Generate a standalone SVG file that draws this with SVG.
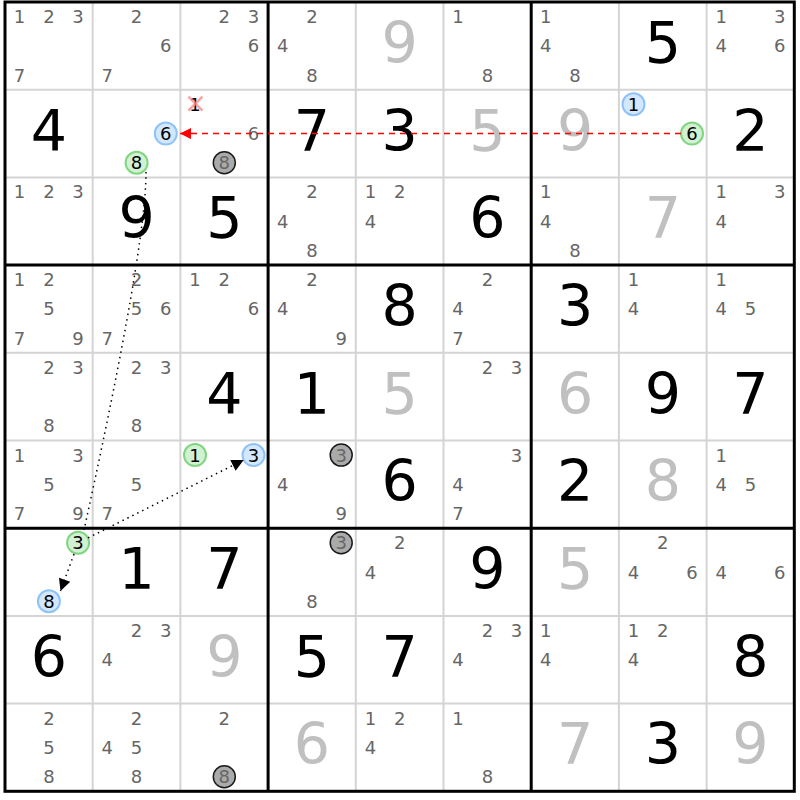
<svg xmlns="http://www.w3.org/2000/svg" width="800" height="800" viewBox="0 0 800 800">
<style>
text{font-family:"DejaVu Sans","Liberation Sans",sans-serif;text-anchor:middle}
.c{font-size:18px;fill:#666}
.b{font-size:57px;fill:#000}
.l{font-size:57px;fill:#c0c0c0}
.k{font-size:18px;fill:#000}
.thin{stroke:#d4d4d4;stroke-width:2}
.thick{stroke:#000;stroke-width:3}
.cb{fill:#d3e8ff;stroke:#8fc3f7;stroke-width:2}
.cg{fill:#d2f1d2;stroke:#80d580;stroke-width:2}
.cx{fill:#aaa;stroke:#1a1a1a;stroke-width:1.5}
.dot{stroke:#000;stroke-width:1.5;stroke-dasharray:1.5 4;fill:none}
</style>
<defs>
<marker id="ar" viewBox="0 0 10 10" refX="10" refY="5" markerWidth="16" markerHeight="11" markerUnits="userSpaceOnUse" orient="auto"><path d="M0,0L10,5L0,10z" fill="#f00"/></marker>
<marker id="ab" viewBox="0 0 10 10" refX="10" refY="5" markerWidth="16" markerHeight="12" markerUnits="userSpaceOnUse" orient="auto"><path d="M0,0L10,5L0,10z" fill="#000"/></marker>
</defs>
<rect x="0" y="0" width="800" height="800" fill="#fff"/>
<g id="grid">
<path class="thin" d="M92.7,2V791.3M180.4,2V791.3M355.8,2V791.3M443.5,2V791.3M618.9,2V791.3M706.6,2V791.3M5,89.7H794.3M5,177.4H794.3M5,352.8H794.3M5,440.5H794.3M5,615.9H794.3M5,703.6H794.3"/>
<path class="thick" d="M268.1,2V791.3M531.2,2V791.3M5,265.1H794.3M5,528.2H794.3"/>
<rect class="thick" x="5" y="2" width="789.3" height="789.3" fill="none"/>
</g>
<!-- row 0 -->
<g id="r0c0" transform="translate(5,2)"><text class="c" x="14.6" y="21.1">1</text><text class="c" x="43.9" y="21.1">2</text><text class="c" x="73.1" y="21.1">3</text><text class="c" x="14.6" y="79.6">7</text></g>
<g id="r0c1" transform="translate(92.7,2)"><text class="c" x="43.9" y="21.1">2</text><text class="c" x="73.1" y="50.4">6</text><text class="c" x="14.6" y="79.6">7</text></g>
<g id="r0c2" transform="translate(180.4,2)"><text class="c" x="43.9" y="21.1">2</text><text class="c" x="73.1" y="21.1">3</text><text class="c" x="73.1" y="50.4">6</text></g>
<g id="r0c3" transform="translate(268.1,2)"><text class="c" x="43.9" y="21.1">2</text><text class="c" x="14.6" y="50.4">4</text><text class="c" x="43.9" y="79.6">8</text></g>
<g id="r0c4" transform="translate(355.8,2)"><text class="l" x="43.9" y="60.9">9</text></g>
<g id="r0c5" transform="translate(443.5,2)"><text class="c" x="14.6" y="21.1">1</text><text class="c" x="43.9" y="79.6">8</text></g>
<g id="r0c6" transform="translate(531.2,2)"><text class="c" x="14.6" y="21.1">1</text><text class="c" x="14.6" y="50.4">4</text><text class="c" x="43.9" y="79.6">8</text></g>
<g id="r0c7" transform="translate(618.9,2)"><text class="b" x="43.9" y="60.9">5</text></g>
<g id="r0c8" transform="translate(706.6,2)"><text class="c" x="14.6" y="21.1">1</text><text class="c" x="73.1" y="21.1">3</text><text class="c" x="14.6" y="50.4">4</text><text class="c" x="73.1" y="50.4">6</text></g>
<!-- row 1 -->
<g id="r1c0" transform="translate(5,89.7)"><text class="b" x="43.9" y="60.9">4</text></g>
<g id="r1c1" transform="translate(92.7,89.7)"><circle class="cb" cx="73.1" cy="43.9" r="11"/><text class="k" x="73.1" y="50.4">6</text><circle class="cg" cx="43.9" cy="73.1" r="11"/><text class="k" x="43.9" y="79.6">8</text></g>
<g id="r1c2" transform="translate(180.4,89.7)"><text class="k" x="14.6" y="21.1">1</text><path d="M8,7L22,21M22,7L8,21" stroke="#ff8a8a" stroke-width="2.5" opacity="0.8"/><text class="c" x="73.1" y="50.4">6</text><circle class="cx" cx="43.9" cy="73.1" r="11"/><text class="c" x="43.9" y="79.6">8</text></g>
<g id="r1c3" transform="translate(268.1,89.7)"><text class="b" x="43.9" y="60.9">7</text></g>
<g id="r1c4" transform="translate(355.8,89.7)"><text class="b" x="43.9" y="60.9">3</text></g>
<g id="r1c5" transform="translate(443.5,89.7)"><text class="l" x="43.9" y="60.9">5</text></g>
<g id="r1c6" transform="translate(531.2,89.7)"><text class="l" x="43.9" y="60.9">9</text></g>
<g id="r1c7" transform="translate(618.9,89.7)"><circle class="cb" cx="14.6" cy="14.6" r="11"/><text class="k" x="14.6" y="21.1">1</text><circle class="cg" cx="73.1" cy="43.9" r="11"/><text class="k" x="73.1" y="50.4">6</text></g>
<g id="r1c8" transform="translate(706.6,89.7)"><text class="b" x="43.9" y="60.9">2</text></g>
<!-- row 2 -->
<g id="r2c0" transform="translate(5,177.4)"><text class="c" x="14.6" y="21.1">1</text><text class="c" x="43.9" y="21.1">2</text><text class="c" x="73.1" y="21.1">3</text></g>
<g id="r2c1" transform="translate(92.7,177.4)"><text class="b" x="43.9" y="60.9">9</text></g>
<g id="r2c2" transform="translate(180.4,177.4)"><text class="b" x="43.9" y="60.9">5</text></g>
<g id="r2c3" transform="translate(268.1,177.4)"><text class="c" x="43.9" y="21.1">2</text><text class="c" x="14.6" y="50.4">4</text><text class="c" x="43.9" y="79.6">8</text></g>
<g id="r2c4" transform="translate(355.8,177.4)"><text class="c" x="14.6" y="21.1">1</text><text class="c" x="43.9" y="21.1">2</text><text class="c" x="14.6" y="50.4">4</text></g>
<g id="r2c5" transform="translate(443.5,177.4)"><text class="b" x="43.9" y="60.9">6</text></g>
<g id="r2c6" transform="translate(531.2,177.4)"><text class="c" x="14.6" y="21.1">1</text><text class="c" x="14.6" y="50.4">4</text><text class="c" x="43.9" y="79.6">8</text></g>
<g id="r2c7" transform="translate(618.9,177.4)"><text class="l" x="43.9" y="60.9">7</text></g>
<g id="r2c8" transform="translate(706.6,177.4)"><text class="c" x="14.6" y="21.1">1</text><text class="c" x="73.1" y="21.1">3</text><text class="c" x="14.6" y="50.4">4</text></g>
<!-- row 3 -->
<g id="r3c0" transform="translate(5,265.1)"><text class="c" x="14.6" y="21.1">1</text><text class="c" x="43.9" y="21.1">2</text><text class="c" x="43.9" y="50.4">5</text><text class="c" x="14.6" y="79.6">7</text><text class="c" x="73.1" y="79.6">9</text></g>
<g id="r3c1" transform="translate(92.7,265.1)"><text class="c" x="43.9" y="21.1">2</text><text class="c" x="43.9" y="50.4">5</text><text class="c" x="73.1" y="50.4">6</text><text class="c" x="14.6" y="79.6">7</text></g>
<g id="r3c2" transform="translate(180.4,265.1)"><text class="c" x="14.6" y="21.1">1</text><text class="c" x="43.9" y="21.1">2</text><text class="c" x="73.1" y="50.4">6</text></g>
<g id="r3c3" transform="translate(268.1,265.1)"><text class="c" x="43.9" y="21.1">2</text><text class="c" x="14.6" y="50.4">4</text><text class="c" x="73.1" y="79.6">9</text></g>
<g id="r3c4" transform="translate(355.8,265.1)"><text class="b" x="43.9" y="60.9">8</text></g>
<g id="r3c5" transform="translate(443.5,265.1)"><text class="c" x="43.9" y="21.1">2</text><text class="c" x="14.6" y="50.4">4</text><text class="c" x="14.6" y="79.6">7</text></g>
<g id="r3c6" transform="translate(531.2,265.1)"><text class="b" x="43.9" y="60.9">3</text></g>
<g id="r3c7" transform="translate(618.9,265.1)"><text class="c" x="14.6" y="21.1">1</text><text class="c" x="14.6" y="50.4">4</text></g>
<g id="r3c8" transform="translate(706.6,265.1)"><text class="c" x="14.6" y="21.1">1</text><text class="c" x="14.6" y="50.4">4</text><text class="c" x="43.9" y="50.4">5</text></g>
<!-- row 4 -->
<g id="r4c0" transform="translate(5,352.8)"><text class="c" x="43.9" y="21.1">2</text><text class="c" x="73.1" y="21.1">3</text><text class="c" x="43.9" y="79.6">8</text></g>
<g id="r4c1" transform="translate(92.7,352.8)"><text class="c" x="43.9" y="21.1">2</text><text class="c" x="73.1" y="21.1">3</text><text class="c" x="43.9" y="79.6">8</text></g>
<g id="r4c2" transform="translate(180.4,352.8)"><text class="b" x="43.9" y="60.9">4</text></g>
<g id="r4c3" transform="translate(268.1,352.8)"><text class="b" x="43.9" y="60.9">1</text></g>
<g id="r4c4" transform="translate(355.8,352.8)"><text class="l" x="43.9" y="60.9">5</text></g>
<g id="r4c5" transform="translate(443.5,352.8)"><text class="c" x="43.9" y="21.1">2</text><text class="c" x="73.1" y="21.1">3</text></g>
<g id="r4c6" transform="translate(531.2,352.8)"><text class="l" x="43.9" y="60.9">6</text></g>
<g id="r4c7" transform="translate(618.9,352.8)"><text class="b" x="43.9" y="60.9">9</text></g>
<g id="r4c8" transform="translate(706.6,352.8)"><text class="b" x="43.9" y="60.9">7</text></g>
<!-- row 5 -->
<g id="r5c0" transform="translate(5,440.5)"><text class="c" x="14.6" y="21.1">1</text><text class="c" x="73.1" y="21.1">3</text><text class="c" x="43.9" y="50.4">5</text><text class="c" x="14.6" y="79.6">7</text><text class="c" x="73.1" y="79.6">9</text></g>
<g id="r5c1" transform="translate(92.7,440.5)"><text class="c" x="43.9" y="50.4">5</text><text class="c" x="14.6" y="79.6">7</text></g>
<g id="r5c2" transform="translate(180.4,440.5)"><circle class="cg" cx="14.6" cy="14.6" r="11"/><text class="k" x="14.6" y="21.1">1</text><circle class="cb" cx="73.1" cy="14.6" r="11"/><text class="k" x="73.1" y="21.1">3</text></g>
<g id="r5c3" transform="translate(268.1,440.5)"><circle class="cx" cx="73.1" cy="14.6" r="11"/><text class="c" x="73.1" y="21.1">3</text><text class="c" x="14.6" y="50.4">4</text><text class="c" x="73.1" y="79.6">9</text></g>
<g id="r5c4" transform="translate(355.8,440.5)"><text class="b" x="43.9" y="60.9">6</text></g>
<g id="r5c5" transform="translate(443.5,440.5)"><text class="c" x="73.1" y="21.1">3</text><text class="c" x="14.6" y="50.4">4</text><text class="c" x="14.6" y="79.6">7</text></g>
<g id="r5c6" transform="translate(531.2,440.5)"><text class="b" x="43.9" y="60.9">2</text></g>
<g id="r5c7" transform="translate(618.9,440.5)"><text class="l" x="43.9" y="60.9">8</text></g>
<g id="r5c8" transform="translate(706.6,440.5)"><text class="c" x="14.6" y="21.1">1</text><text class="c" x="14.6" y="50.4">4</text><text class="c" x="43.9" y="50.4">5</text></g>
<!-- row 6 -->
<g id="r6c0" transform="translate(5,528.2)"><circle class="cg" cx="73.1" cy="14.6" r="11"/><text class="k" x="73.1" y="21.1">3</text><circle class="cb" cx="43.9" cy="73.1" r="11"/><text class="k" x="43.9" y="79.6">8</text></g>
<g id="r6c1" transform="translate(92.7,528.2)"><text class="b" x="43.9" y="60.9">1</text></g>
<g id="r6c2" transform="translate(180.4,528.2)"><text class="b" x="43.9" y="60.9">7</text></g>
<g id="r6c3" transform="translate(268.1,528.2)"><circle class="cx" cx="73.1" cy="14.6" r="11"/><text class="c" x="73.1" y="21.1">3</text><text class="c" x="43.9" y="79.6">8</text></g>
<g id="r6c4" transform="translate(355.8,528.2)"><text class="c" x="43.9" y="21.1">2</text><text class="c" x="14.6" y="50.4">4</text></g>
<g id="r6c5" transform="translate(443.5,528.2)"><text class="b" x="43.9" y="60.9">9</text></g>
<g id="r6c6" transform="translate(531.2,528.2)"><text class="l" x="43.9" y="60.9">5</text></g>
<g id="r6c7" transform="translate(618.9,528.2)"><text class="c" x="43.9" y="21.1">2</text><text class="c" x="14.6" y="50.4">4</text><text class="c" x="73.1" y="50.4">6</text></g>
<g id="r6c8" transform="translate(706.6,528.2)"><text class="c" x="14.6" y="50.4">4</text><text class="c" x="73.1" y="50.4">6</text></g>
<!-- row 7 -->
<g id="r7c0" transform="translate(5,615.9)"><text class="b" x="43.9" y="60.9">6</text></g>
<g id="r7c1" transform="translate(92.7,615.9)"><text class="c" x="43.9" y="21.1">2</text><text class="c" x="73.1" y="21.1">3</text><text class="c" x="14.6" y="50.4">4</text></g>
<g id="r7c2" transform="translate(180.4,615.9)"><text class="l" x="43.9" y="60.9">9</text></g>
<g id="r7c3" transform="translate(268.1,615.9)"><text class="b" x="43.9" y="60.9">5</text></g>
<g id="r7c4" transform="translate(355.8,615.9)"><text class="b" x="43.9" y="60.9">7</text></g>
<g id="r7c5" transform="translate(443.5,615.9)"><text class="c" x="43.9" y="21.1">2</text><text class="c" x="73.1" y="21.1">3</text><text class="c" x="14.6" y="50.4">4</text></g>
<g id="r7c6" transform="translate(531.2,615.9)"><text class="c" x="14.6" y="21.1">1</text><text class="c" x="14.6" y="50.4">4</text></g>
<g id="r7c7" transform="translate(618.9,615.9)"><text class="c" x="14.6" y="21.1">1</text><text class="c" x="43.9" y="21.1">2</text><text class="c" x="14.6" y="50.4">4</text></g>
<g id="r7c8" transform="translate(706.6,615.9)"><text class="b" x="43.9" y="60.9">8</text></g>
<!-- row 8 -->
<g id="r8c0" transform="translate(5,703.6)"><text class="c" x="43.9" y="21.1">2</text><text class="c" x="43.9" y="50.4">5</text><text class="c" x="43.9" y="79.6">8</text></g>
<g id="r8c1" transform="translate(92.7,703.6)"><text class="c" x="43.9" y="21.1">2</text><text class="c" x="14.6" y="50.4">4</text><text class="c" x="43.9" y="50.4">5</text><text class="c" x="43.9" y="79.6">8</text></g>
<g id="r8c2" transform="translate(180.4,703.6)"><text class="c" x="43.9" y="21.1">2</text><circle class="cx" cx="43.9" cy="73.1" r="11"/><text class="c" x="43.9" y="79.6">8</text></g>
<g id="r8c3" transform="translate(268.1,703.6)"><text class="l" x="43.9" y="60.9">6</text></g>
<g id="r8c4" transform="translate(355.8,703.6)"><text class="c" x="14.6" y="21.1">1</text><text class="c" x="43.9" y="21.1">2</text><text class="c" x="14.6" y="50.4">4</text></g>
<g id="r8c5" transform="translate(443.5,703.6)"><text class="c" x="14.6" y="21.1">1</text><text class="c" x="43.9" y="79.6">8</text></g>
<g id="r8c6" transform="translate(531.2,703.6)"><text class="l" x="43.9" y="60.9">7</text></g>
<g id="r8c7" transform="translate(618.9,703.6)"><text class="b" x="43.9" y="60.9">3</text></g>
<g id="r8c8" transform="translate(706.6,703.6)"><text class="l" x="43.9" y="60.9">9</text></g>
<!-- connectors -->
<g id="connectors">
<line x1="681" y1="133.6" x2="180" y2="133.6" stroke="#f00" stroke-width="1.5" stroke-dasharray="6 5" marker-end="url(#ar)"/>
<path class="dot" d="M146,172Q146,248 84,530"/>
<line class="dot" x1="88" y1="537.9" x2="243.7" y2="460" marker-end="url(#ab)"/>
<line class="dot" x1="74" y1="554" x2="60.5" y2="591" marker-end="url(#ab)"/>
</g>
</svg>
